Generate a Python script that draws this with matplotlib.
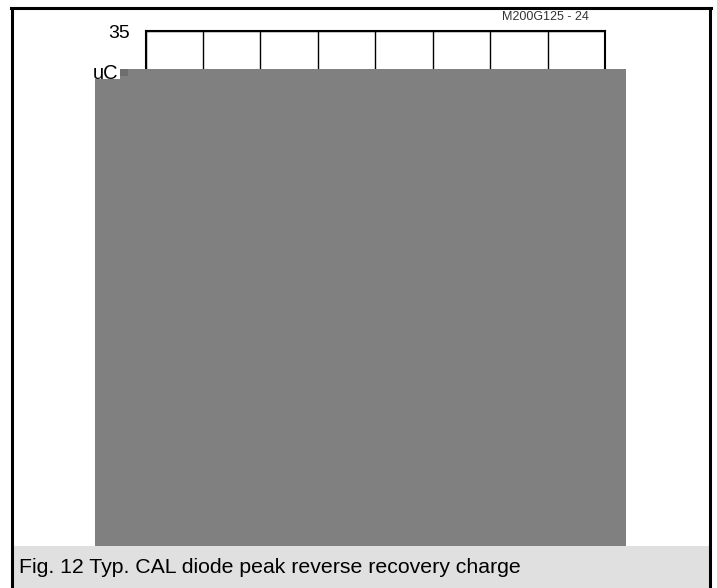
import matplotlib.pyplot as plt
from matplotlib.patches import Rectangle

plt.rcParams['font.family'] = ['Liberation Sans', 'DejaVu Sans']

# axis setup: peak reverse recovery charge vs. di/dt
x_ticks = [0, 1000, 2000, 3000, 4000, 5000, 6000, 7000, 8000]
y_ticks = [0, 5, 10, 15, 20, 25, 30, 35]
y_label = "uC"
chart_id = "M200G125 - 24"
caption = "Fig. 12 Typ. CAL diode peak reverse recovery charge"

W, H = 717, 588
fig = plt.figure(figsize=(W / 100, H / 100), dpi=100)


def fx(x):
    return x / W


def fy(y):
    return 1 - y / H


def fig_rect(x0, y0, x1, y1, **kw):
    fig.patches.append(Rectangle((fx(x0), fy(y1)), fx(x1) - fx(x0), fy(y0) - fy(y1),
                                 transform=fig.transFigure, figure=fig, **kw))


# plot area
ax = fig.add_axes([fx(145.5), fy(470), fx(605) - fx(145.5), fy(31) - fy(470)])
ax.set_xlim(x_ticks[0], x_ticks[-1])
ax.set_ylim(y_ticks[0], y_ticks[-1])
ax.set_xticks(x_ticks)
ax.set_yticks(y_ticks)
ax.set_xticklabels([])
ax.set_yticklabels([str(v) for v in y_ticks], fontsize=14)
ax.tick_params(length=0, pad=11.5)
ax.grid(True, color='black', linewidth=1.0)
for s in ax.spines.values():
    s.set_linewidth(1.5)

# masked region over the curves
fig_rect(95, 69, 626, 546, facecolor='#808080', edgecolor='none', zorder=2)
fig_rect(93, 65, 120, 79, facecolor='white', edgecolor='none', zorder=3)
fig_rect(120, 69, 128, 76, facecolor='#6e6e6e', edgecolor='none', zorder=3)

fig.text(fx(93), fy(78.5), y_label, fontsize=14.5, ha='left', va='baseline', zorder=4)
fig.text(fx(502), fy(20), chart_id, fontsize=9, color='#333333',
         ha='left', va='baseline')

# caption bar and frame
fig_rect(12, 546, 709, 588, facecolor='#e0e0e0', edgecolor='none', zorder=2)
fig.text(fx(19), fy(573), caption, fontsize=15.3, ha='left', va='baseline', zorder=4)
fig.add_artist(plt.Line2D([fx(11.5), fx(11.5)], [fy(7.5), fy(588)], color='black',
                          linewidth=2.2, transform=fig.transFigure, zorder=5))
fig.add_artist(plt.Line2D([fx(709.5), fx(709.5)], [fy(7.5), fy(588)], color='black',
                          linewidth=2.2, transform=fig.transFigure, zorder=5))
fig.add_artist(plt.Line2D([fx(10.5), fx(710.5)], [fy(8), fy(8)], color='black',
                          linewidth=2.2, transform=fig.transFigure, zorder=5))

fig.savefig("out.png", dpi=100)
